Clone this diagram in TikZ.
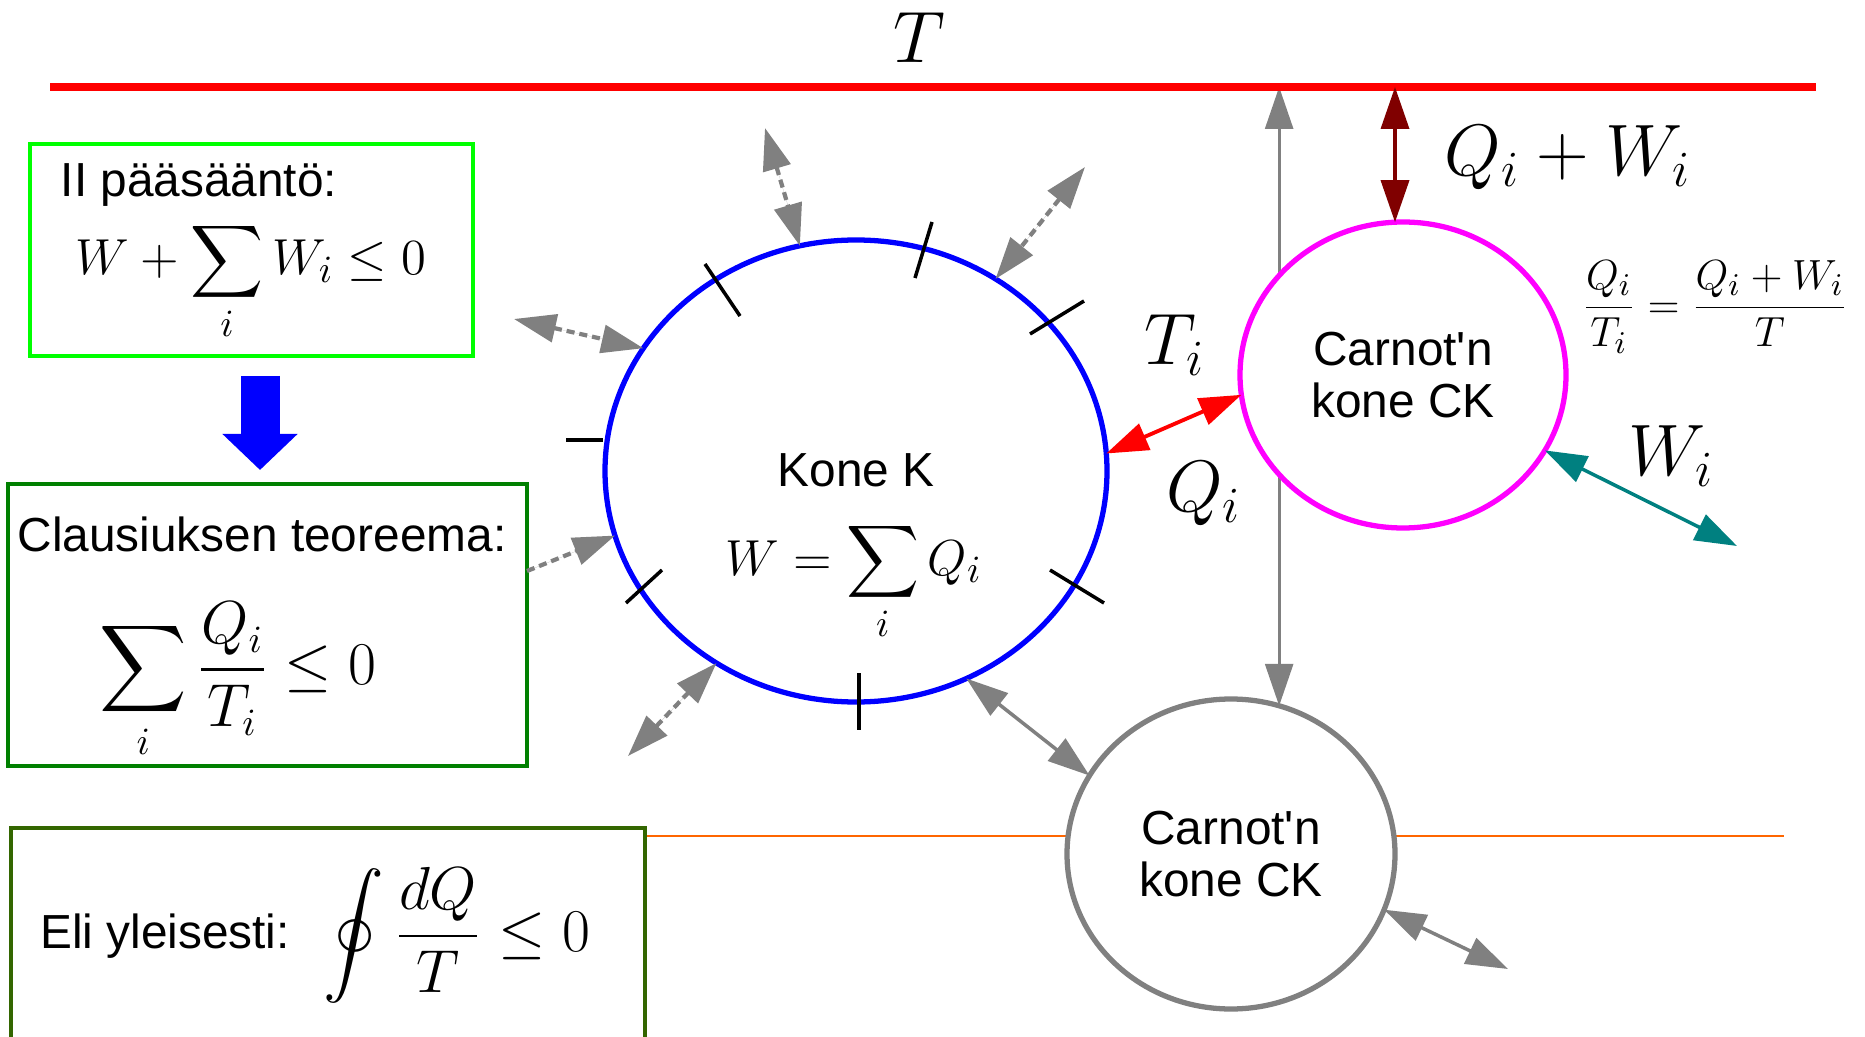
\documentclass[tikz,border=0pt]{standalone}
\usepackage{fontspec}
\setsansfont{Liberation Sans}
\usepackage{amsmath}
\usetikzlibrary{arrows.meta,positioning,calc,shapes.geometric,backgrounds}
\definecolor{lawgreen}{HTML}{00FF00}
\definecolor{clausgreen}{HTML}{008000}
\definecolor{oligreen}{HTML}{336600}
\definecolor{hotred}{HTML}{FF0000}
\definecolor{coldorange}{HTML}{FF6600}
\definecolor{ckgray}{HTML}{808080}
\definecolor{ckmagenta}{HTML}{FF00FF}
\definecolor{wteal}{HTML}{008080}
\definecolor{qwred}{HTML}{800000}
\tikzset{
  >={Triangle[length=4.2mm,width=2.8mm]},
  sans/.style={font=\sffamily\fontsize{13.6}{15.5}\selectfont, inner sep=0pt},
  bigmath/.style={font=\fontsize{21.5}{25}\selectfont, inner sep=0pt},
  boxmath/.style={font=\fontsize{16}{19}\selectfont, inner sep=0pt},
  lawbox/.style={rectangle, line width=1.4pt, fill=white, inner sep=0pt, outer sep=0pt},
  engine/.style={ellipse, line width=1.5pt, fill=white, inner sep=0pt, outer sep=0pt,
    align=center, font=\sffamily\fontsize{13.6}{15}\selectfont},
  hotline/.style={draw=hotred, line width=2.3pt},
  coldline/.style={draw=coldorange, line width=0.8pt},
  heatdash/.style={draw=ckgray, fill=ckgray, line width=1.2pt, dash pattern=on 2.3pt off 1.4pt},
  heatflow/.style={<->, draw=ckgray, fill=ckgray, line width=1pt},
  blockarrow/.style={-{Triangle[length=3.6mm,width=7.3mm]}, draw=blue, line width=3.9mm},
  tick/.style={draw=black, line width=1pt}
}

\begin{document}
\begin{tikzpicture}
\useasboundingbox (0,0) rectangle (18.65,-10.37);
% hot reservoir
\coordinate (Tl) at (0.50,-0.87);
\coordinate (Tr) at (18.16,-0.87);
\draw[hotline] (Tl) -- (Tr);
\node[bigmath] (Tlabel) at (9.19,-0.38) {$T$};

% law boxes
\node[lawbox, draw=lawgreen, minimum width=4.43cm, minimum height=2.12cm] (law) at (2.515,-2.50) {};
\node[sans, anchor=base] (lawtext) at (1.99,-1.97) {II pääsääntö:};
\node[boxmath, font=\fontsize{15}{18}\selectfont, anchor=base] (lawmath) at (2.51,-2.75) {$\displaystyle W+\sum_i W_i\leq 0$};
\coordinate (bs) at (2.60,-3.76);
\coordinate (be) at (2.60,-4.70);
\draw[blockarrow] (bs) -- (be);
\node[lawbox, draw=clausgreen, minimum width=5.19cm, minimum height=2.82cm] (claus) at (2.675,-6.25) {};
\node[sans, anchor=base] (claustext) at (2.62,-5.51) {Clausiuksen teoreema:};
\node[boxmath, anchor=base] (clausmath) at (2.38,-6.845) {$\displaystyle \sum_i\frac{Q_i}{T_i}\leq 0$};
\node[lawbox, draw=oligreen, minimum width=6.34cm, minimum height=2.12cm] (eli) at (3.28,-9.34) {};
\node[sans, anchor=base] (elitext) at (1.65,-9.48) {Eli yleisesti:};
\node[boxmath, anchor=base] (elimath) at (4.57,-9.51) {$\displaystyle \oint\frac{dQ}{T}\leq 0$};

% engines
\node[engine, draw=blue, minimum width=5.02cm, minimum height=4.62cm] (K) at (8.56,-4.71) {};
\node[sans] (kname) at (8.56,-4.70) {Kone K};
\node[boxmath, font=\fontsize{15.5}{18}\selectfont, anchor=base] (kmath) at (8.54,-5.75) {$\displaystyle W=\sum_i Q_i$};
\node[engine, draw=ckmagenta, minimum width=3.26cm, minimum height=3.06cm] (C1) at (14.03,-3.75) {Carnot\textquotesingle n\\kone CK};
\node[engine, draw=ckgray, minimum width=3.28cm, minimum height=3.10cm] (C2) at (12.31,-8.54) {Carnot\textquotesingle n\\kone CK};

% cold reservoir and long heat line
\coordinate (oR) at (17.84,-8.36);
\begin{pgfonlayer}{background}
\draw[coldline] (oR -| eli.east) -- (oR);
\draw[heatflow, line width=0.8pt] (C2.72.5 |- Tl) -- (C2.72.5);
\end{pgfonlayer}

% ticks on K
\foreach \xa/\ya/\xb/\yb in {7.05/-2.64/7.40/-3.16, 9.32/-2.22/9.15/-2.78, 10.84/-3.01/10.30/-3.34,
  5.66/-4.40/6.03/-4.40, 6.62/-5.70/6.26/-6.03, 10.50/-5.70/11.04/-6.03, 8.59/-6.73/8.59/-7.30}
  \draw[tick] (\xa,\ya) -- (\xb,\yb);

% heat exchanges of K
\coordinate (a1) at (7.65,-1.28);
\coordinate (a2) at (10.85,-1.67);
\coordinate (a3) at (5.14,-3.19);
\coordinate (a4) at (5.27,-5.71);
\coordinate (a5) at (6.28,-7.56);
\draw[heatdash, <->] (a1) -- (K.104.7);
\draw[heatdash, <->] (a2) -- (K.54.7);
\draw[heatdash, <->] (a3) -- (K.150.8);
\draw[heatdash, ->] (a4) -- (K.195.4);
\draw[heatdash, <->] (a5) -- (K.234.9);
\draw[heatflow] (K.298.8) -- (C2.151.6);
\draw[<->, draw=hotred, fill=hotred, line width=1.1pt] (K.4.8) -- (C1.187.3);

% Carnot engine CK
\draw[<->, draw=qwred, fill=qwred, line width=1pt] (C1.93.3 |- Tl) -- (C1.93.3);
\coordinate (wend) at (17.37,-5.46);
\draw[<->, draw=wteal, fill=wteal, line width=1pt] (C1.332) -- (wend);
\coordinate (c2end) at (15.08,-9.69);
\draw[heatflow] (C2.340) -- (c2end);

% labels
\node[bigmath, font=\fontsize{22.5}{26}\selectfont] (qwlabel) at (15.68,-1.58) {$Q_i+W_i$};
\node[bigmath] (tilabel) at (11.75,-3.45) {$T_i$};
\node[bigmath] (qilabel) at (12.04,-4.94) {$Q_i$};
\node[bigmath] (wilabel) at (16.71,-4.56) {$W_i$};
\node[inner sep=0pt, font=\fontsize{12.8}{15}\selectfont] (ratio) at (17.15,-3.07) {$\displaystyle\frac{Q_i}{T_i}=\frac{Q_i+W_i}{T}$};
\end{tikzpicture}
\end{document}
